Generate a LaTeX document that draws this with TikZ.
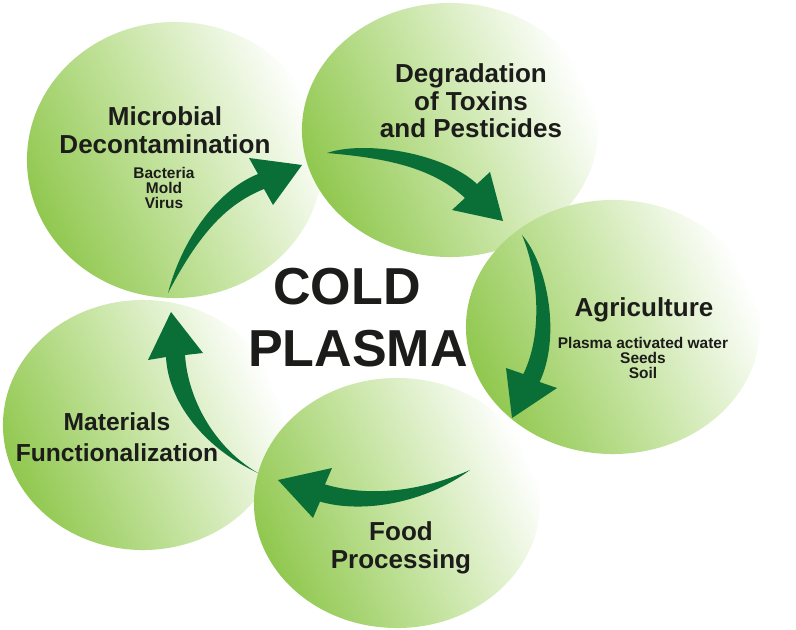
\documentclass[tikz,border=0pt]{standalone}
\usepackage{fontspec}
\setmainfont{Liberation Sans}
\usetikzlibrary{shapes.geometric}
\definecolor{leafgreen}{RGB}{145,200,80}
\definecolor{palegreen}{RGB}{200,229,165}
\definecolor{arrowgreen}{RGB}{10,110,55}
\definecolor{inkblack}{RGB}{28,28,26}
\tikzset{
  blob/.style={ellipse, inner sep=0pt, left color=leafgreen, right color=white, middle color=palegreen, shading angle=115},
  title/.style={font=\bfseries\fontsize{18.5}{19.5}\selectfont, text=inkblack, align=center, inner sep=0pt},
  note/.style={font=\bfseries\fontsize{11}{10.5}\selectfont, text=inkblack, align=center, inner sep=0pt},
  big/.style={font=\bfseries\fontsize{37}{40}\selectfont, text=inkblack, inner sep=0pt},
  swoosh/.style={fill=arrowgreen}
}
\begin{document}
\begin{tikzpicture}[x=0.025cm,y=-0.025cm]
  \useasboundingbox (0,0) rectangle (796,630);
  % the five fields
  \node[blob, minimum width=7.4cm, minimum height=6.9cm] (micro) at (175,160) {};
  \node[blob, minimum width=7cm, minimum height=6.25cm] (mat) at (143,425) {};
  \node[blob, minimum width=7.4cm, minimum height=6.35cm] (degr) at (450,130) {};
  \node[blob, minimum width=7.15cm, minimum height=6.25cm] (food) at (397,503) {};
  \node[blob, minimum width=7.35cm, minimum height=6.35cm] (agri) at (613,327) {};

  % labels
  \node[title] (microlbl) at (165,130) {Microbial\\Decontamination};
  \node[note] (microsub) at (164,188) {Bacteria\\Mold\\Virus};
  \node[title] (degrlbl) at (471,101) {Degradation\\of Toxins\\and Pesticides};
  \node[title, anchor=base] (agrilbl) at (644,316) {Agriculture};
  \node[note] (agrisub) at (643,358) {Plasma activated water\\Seeds\\Soil};
  \node[title, font=\bfseries\fontsize{17.5}{22}\selectfont] (matlbl) at (117,437) {Materials\\Functionalization};
  \node[title, font=\bfseries\fontsize{18.5}{20}\selectfont] (foodlbl) at (401,548) {Food\\Processing};
  \node[big] (cold) at (347,287) {COLD};
  \node[big] (plasma) at (358,349) {PLASMA};

  % arrows round the cycle
  \coordinate (t1) at (168,293); \coordinate (p1) at (302,165);
  \coordinate (t2) at (327,153); \coordinate (p2) at (503,221);
  \coordinate (t3) at (522,235); \coordinate (p3) at (512,418);
  \coordinate (t4) at (470,470); \coordinate (p4) at (278,480);
  \coordinate (t5) at (258,473); \coordinate (p5) at (171,312);
  \fill[swoosh] (t1) .. controls (182,240) and (216,191) .. (258,174) -- (249,158) -- (p1)
    -- (273,205) -- (264,189) .. controls (227,204) and (200,232) .. (t1);
  \fill[swoosh] (t2) .. controls (365,140) and (444,153) .. (477,184) -- (490,172) -- (p2)
    -- (452,210) -- (465,198) .. controls (432,167) and (385,158) .. (t2);
  \fill[swoosh] (t3) .. controls (548,265) and (561,337) .. (539.6,382) -- (557,388) -- (p3)
    -- (506,368) -- (523.4,374) .. controls (545,329) and (536,268) .. (t3);
  \fill[swoosh] (t4) .. controls (425,503) and (363,514) .. (320,501.6) -- (313,518) -- (p4)
    -- (332,468) -- (325,484.4) .. controls (368,497) and (420,492) .. (t4);
  \fill[swoosh] (t5) .. controls (202,447) and (168,400) .. (166,357) -- (148,360) -- (p5)
    -- (203,353) -- (185,355) .. controls (188,400) and (215,448) .. (t5);
\end{tikzpicture}
\end{document}
